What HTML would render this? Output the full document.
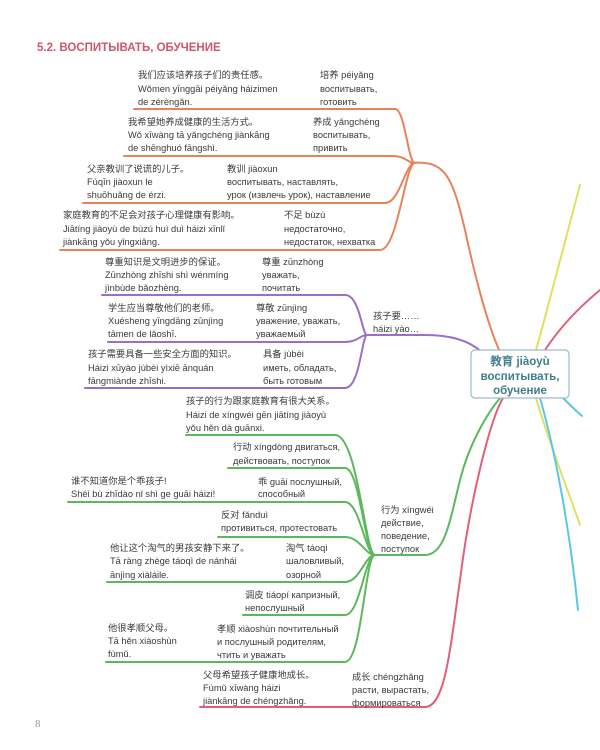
<!DOCTYPE html>
<html><head><meta charset="utf-8"><style>
html,body{margin:0;padding:0;background:#fff;width:600px;height:750px;overflow:hidden}
svg{display:block}
text{font-family:"Liberation Sans","Noto Sans CJK SC",sans-serif;font-size:9.3px;fill:#3a3a3a}
.t{font-size:11.5px;font-weight:bold;fill:#d0566a}
.c{font-size:11.5px;font-weight:bold;fill:#3f7d8c}
</style></head><body>
<svg width="600" height="750" viewBox="0 0 600 750" xmlns="http://www.w3.org/2000/svg">
<text x="37" y="51" class="t">5.2. ВОСПИТЫВАТЬ, ОБУЧЕНИЕ</text>
<g fill="none" stroke-width="2" stroke-linecap="round">
<!-- orange -->
<g stroke="#e8825a">
<path d="M134,109 H395 C405,109 408,163 415,163"/>
<path d="M124,156 H393 C405,156 408,163 415,163"/>
<path d="M83,203 H385 C400,203 405,163 415,163"/>
<path d="M60,250 H380 C398,250 405,163 415,163"/>
<path d="M411,163 C445,160 452,175 465,230 C478,290 490,330 500,352"/>
</g>
<!-- purple -->
<g stroke="#9b6fc8">
<path d="M102,295 H345 C360,295 362,335 367,335"/>
<path d="M108,342 H345 C358,342 360,335 367,335"/>
<path d="M85,388 H345 C360,388 362,335 367,335"/>
<path d="M367,335 H425 C450,335 468,340 482,352"/>
</g>
<!-- green -->
<g stroke="#5cb85c">
<path d="M186,435 H335 C358,435 365,555 375,555"/>
<path d="M228,468 H345 C360,468 365,555 375,555"/>
<path d="M68,502 H345 C360,502 365,555 375,555"/>
<path d="M218,537 H345 C360,537 365,555 375,555"/>
<path d="M107,582 H345 C360,582 365,555 375,555"/>
<path d="M243,615 H345 C360,615 365,555 375,555"/>
<path d="M106,662 H345 C362,662 365,555 375,555"/>
<path d="M375,555 H425 C445,555 450,520 460,480 C470,440 490,410 500,398"/>
</g>
<!-- red -->
<g stroke="#e0607a">
<path d="M200,707 H425 C445,707 450,650 460,580 C470,500 490,420 503,398"/>
<path d="M600,290 C570,315 555,335 545,350"/>
</g>
<!-- yellow -->
<g stroke="#e0e060">
<path d="M580,185 C560,260 542,330 536,350"/>
<path d="M536,398 C548,440 568,490 580,525"/>
</g>
<!-- cyan -->
<g stroke="#5cc8e0">
<path d="M560,395 C568,403 575,410 582,416"/>
<path d="M540,398 C555,450 570,530 578,610"/>
</g>
</g>
<rect x="471" y="350" width="98" height="48" rx="4" fill="#fff" stroke="#9dbac8" stroke-width="1.2"/>
<text x="520" y="365" class="c" text-anchor="middle">教育 jiàoyù</text>
<text x="520" y="380" class="c" text-anchor="middle">воспитывать,</text>
<text x="520" y="394" class="c" text-anchor="middle">обучение</text>

<!-- orange texts -->
<text x="138" y="78">我们应该培养孩子们的责任感。</text>
<text x="138" y="92">Wǒmen yīnggāi péiyǎng háizimen</text>
<text x="138" y="105">de zérèngǎn.</text>
<text x="320" y="78">培养 péiyǎng</text>
<text x="320" y="92">воспитывать,</text>
<text x="320" y="105">готовить</text>

<text x="128" y="125">我希望她养成健康的生活方式。</text>
<text x="128" y="138">Wǒ xīwàng tā yǎngchéng jiànkāng</text>
<text x="128" y="151">de shēnghuó fāngshì.</text>
<text x="313" y="125">养成 yǎngchéng</text>
<text x="313" y="138">воспитывать,</text>
<text x="313" y="151">привить</text>

<text x="87" y="172">父亲教训了说谎的儿子。</text>
<text x="87" y="185">Fùqīn jiàoxun le</text>
<text x="87" y="198">shuōhuǎng de érzi.</text>
<text x="227" y="172">教训 jiàoxun</text>
<text x="227" y="185">воспитывать, наставлять,</text>
<text x="227" y="198">урок (извлечь урок), наставление</text>

<text x="63" y="218">家庭教育的不足会对孩子心理健康有影响。</text>
<text x="63" y="232">Jiātíng jiàoyù de bùzú huì duì háizi xīnlǐ</text>
<text x="63" y="245">jiànkāng yǒu yǐngxiǎng.</text>
<text x="284" y="218">不足 bùzú</text>
<text x="284" y="232">недостаточно,</text>
<text x="284" y="245">недостаток, нехватка</text>

<!-- purple texts -->
<text x="105" y="265">尊重知识是文明进步的保证。</text>
<text x="105" y="278">Zūnzhòng zhīshi shì wénmíng</text>
<text x="105" y="291">jìnbùde bǎozhèng.</text>
<text x="262" y="265">尊重 zūnzhòng</text>
<text x="262" y="278">уважать,</text>
<text x="262" y="291">почитать</text>

<text x="108" y="311">学生应当尊敬他们的老师。</text>
<text x="108" y="324">Xuésheng yīngdāng zūnjìng</text>
<text x="108" y="337">tāmen de lǎoshī.</text>
<text x="256" y="311">尊敬 zūnjìng</text>
<text x="256" y="324">уважение, уважать,</text>
<text x="256" y="337">уважаемый</text>

<text x="88" y="357">孩子需要具备一些安全方面的知识。</text>
<text x="88" y="371">Háizi xūyào jùbèi yìxiē ānquán</text>
<text x="88" y="384">fāngmiànde zhīshi.</text>
<text x="263" y="357">具备 jùbèi</text>
<text x="263" y="371">иметь, обладать,</text>
<text x="263" y="384">быть готовым</text>

<text x="373" y="319">孩子要……</text>
<text x="373" y="332">háizi yào…</text>

<!-- green texts -->
<text x="186" y="404">孩子的行为跟家庭教育有很大关系。</text>
<text x="186" y="418">Háizi de xíngwéi gēn jiātíng jiàoyù</text>
<text x="186" y="431">yǒu hěn dà guānxi.</text>

<text x="233" y="450">行动 xíngdòng двигаться,</text>
<text x="233" y="464">действовать, поступок</text>

<text x="71" y="484">谁不知道你是个乖孩子!</text>
<text x="71" y="497">Shéi bù zhīdào nǐ shì ge guāi háizi!</text>
<text x="258" y="485">乖 guāi послушный,</text>
<text x="258" y="497">способный</text>

<text x="221" y="518">反对 fǎnduì</text>
<text x="221" y="531">противиться, протестовать</text>

<text x="110" y="551">他让这个淘气的男孩安静下来了。</text>
<text x="110" y="564">Tā ràng zhège táoqì de nánhái</text>
<text x="110" y="578">ānjìng xiàláile.</text>
<text x="286" y="551">淘气 táoqì</text>
<text x="286" y="564">шаловливый,</text>
<text x="286" y="578">озорной</text>

<text x="245" y="598">调皮 tiáopí капризный,</text>
<text x="245" y="611">непослушный</text>

<text x="108" y="631">他很孝顺父母。</text>
<text x="108" y="644">Tā hěn xiàoshùn</text>
<text x="108" y="657">fùmǔ.</text>
<text x="217" y="632">孝顺 xiàoshùn почтительный</text>
<text x="217" y="645">и послушный родителям,</text>
<text x="217" y="658">чтить и уважать</text>

<text x="381" y="513">行为 xíngwéi</text>
<text x="381" y="526">действие,</text>
<text x="381" y="539">поведение,</text>
<text x="381" y="552">поступок</text>

<!-- red bottom -->
<text x="203" y="678">父母希望孩子健康地成长。</text>
<text x="203" y="691">Fùmǔ xīwàng háizi</text>
<text x="203" y="704">jiànkāng de chéngzhǎng.</text>
<text x="352" y="680">成长 chéngzhǎng</text>
<text x="352" y="693">расти, вырастать,</text>
<text x="352" y="706">формироваться</text>

<text x="35" y="727" style="font-family:'Liberation Serif',serif;font-size:11px;fill:#999">8</text>
</svg>
</body></html>
